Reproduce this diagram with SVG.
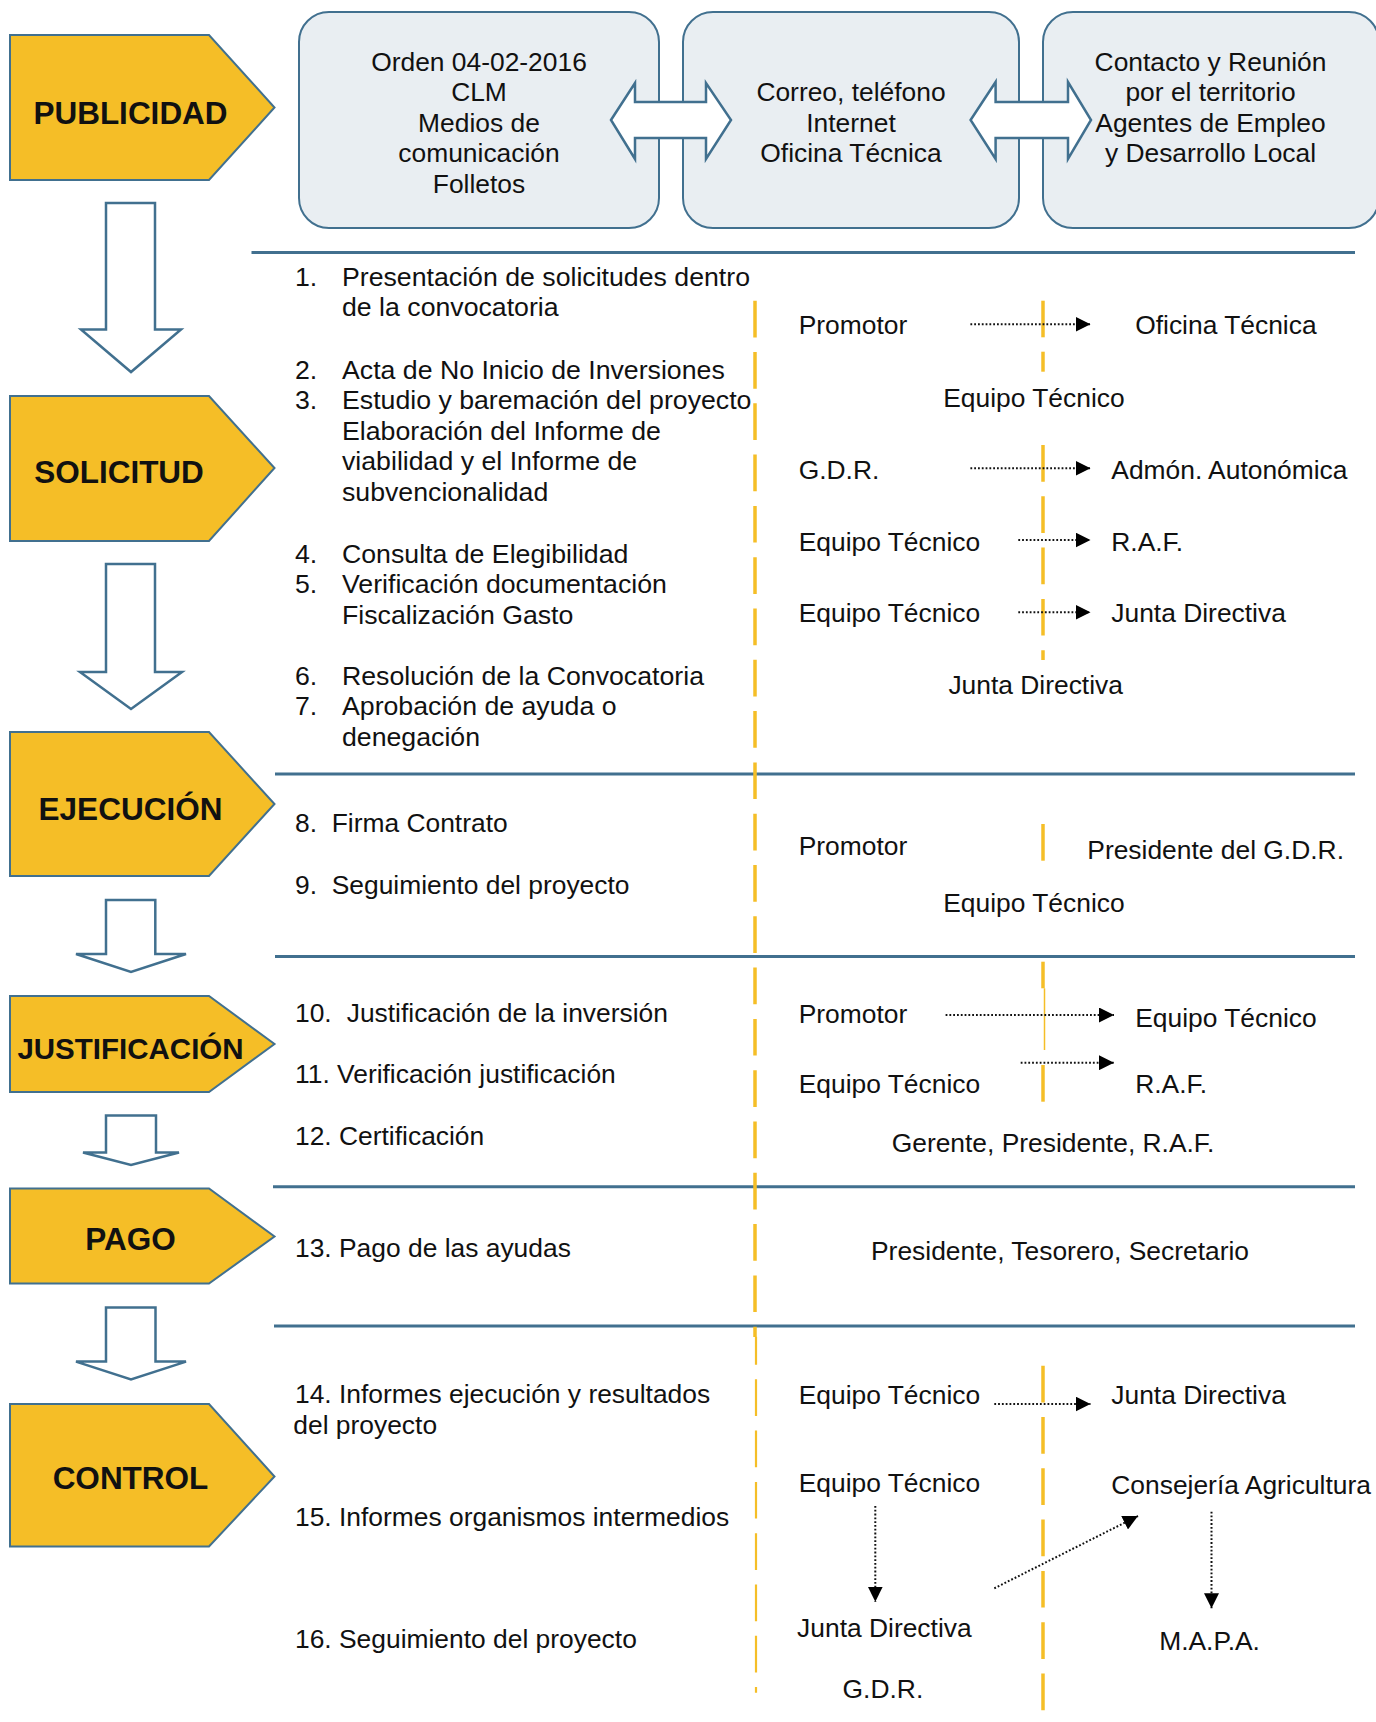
<svg xmlns="http://www.w3.org/2000/svg" width="1376" height="1722" viewBox="0 0 1376 1722">
<defs>
<style>
.t{font-family:"Liberation Sans",Arial,sans-serif;font-size:26.4px;fill:#111}
.tl{font-family:"Liberation Sans",Arial,sans-serif;font-size:26.7px;fill:#111}
.h{font-family:"Liberation Sans",Arial,sans-serif;font-size:31.5px;font-weight:bold;fill:#111;text-anchor:middle}
.pent{fill:#F5BE27;stroke:#41708F;stroke-width:2}
.box{fill:#E9EEF2;stroke:#41708F;stroke-width:2}
.blk{fill:#fff;stroke:#41708F;stroke-width:2.5}
.hl{stroke:#41708F;stroke-width:3}
.yl{stroke:#F5BE27;stroke-width:3.5;stroke-dasharray:36.7 14.6}
.ys{stroke:#F5BE27;stroke-width:3.5}
.dot{stroke:#111;stroke-width:2;stroke-dasharray:1.8 2;fill:none;marker-end:url(#ah)}
</style>
<marker id="ah" markerUnits="userSpaceOnUse" markerWidth="15" markerHeight="15" viewBox="0 0 15 15" refX="15" refY="7.5" orient="auto">
<path d="M0,0 L15,7.5 L0,15 z" fill="#000"/>
</marker>
</defs>
<rect width="1376" height="1722" fill="#fff"/>

<!-- stage pentagons -->
<g id="publicidad"><polygon class="pent" points="10,35 209,35 274.5,107.5 209,180 10,180"/><text class="h" x="130.5" y="123.5">PUBLICIDAD</text></g>
<g id="solicitud"><polygon class="pent" points="10,396 209,396 274.5,468 209,541 10,541"/><text class="h" x="119" y="483">SOLICITUD</text></g>
<g id="ejecucion"><polygon class="pent" points="10,732 209,732 274.5,804 209,876 10,876"/><text class="h" x="130.5" y="820">EJECUCIÓN</text></g>
<g id="justificacion"><polygon class="pent" points="10,996 209,996 274.5,1044 209,1092 10,1092"/><text class="h" x="130.5" y="1058.5" style="font-size:29.5px">JUSTIFICACIÓN</text></g>
<g id="pago"><polygon class="pent" points="10,1188.5 209,1188.5 274.5,1236.5 209,1283.5 10,1283.5"/><text class="h" x="130.5" y="1250">PAGO</text></g>
<g id="control"><polygon class="pent" points="10,1404 209,1404 274.5,1476.5 209,1546.5 10,1546.5"/><text class="h" x="130.5" y="1488.5">CONTROL</text></g>

<!-- down block arrows -->
<g id="down-arrows">
<polygon class="blk" points="106,203 155,203 155,329.5 181,329.5 131,372 81,329.5 106,329.5"/>
<polygon class="blk" points="106,564 155,564 155,672 182,672 131,709 80,672 106,672"/>
<polygon class="blk" points="106,900 155.3,900 155.3,954 186,954 131,972 76,954 106,954"/>
<polygon class="blk" points="106,1115.5 156,1115.5 156,1152.5 179,1152.5 131,1165 83,1152.5 106,1152.5"/>
<polygon class="blk" points="106,1307.5 155.5,1307.5 155.5,1361.6 186,1361.6 131,1379.5 76,1361.6 106,1361.6"/>
</g>

<!-- publicity boxes -->
<g id="box1"><rect class="box" x="299" y="12" width="360" height="216" rx="30"/>
<text class="t" text-anchor="middle"><tspan x="479" y="70.7">Orden 04-02-2016</tspan><tspan x="479" y="101.2">CLM</tspan><tspan x="479" y="131.7">Medios de</tspan><tspan x="479" y="162.2">comunicación</tspan><tspan x="479" y="192.7">Folletos</tspan></text></g>
<g id="box2"><rect class="box" x="683" y="12" width="336" height="216" rx="30"/>
<text class="t" text-anchor="middle"><tspan x="851" y="101.2">Correo, teléfono</tspan><tspan x="851" y="131.7">Internet</tspan><tspan x="851" y="162.2">Oficina Técnica</tspan></text></g>
<g id="box3"><rect class="box" x="1043" y="12" width="336" height="216" rx="30"/>
<text class="t" text-anchor="middle"><tspan x="1210.5" y="70.7">Contacto y Reunión</tspan><tspan x="1210.5" y="101.2">por el territorio</tspan><tspan x="1210.5" y="131.7">Agentes de Empleo</tspan><tspan x="1210.5" y="162.2">y Desarrollo Local</tspan></text></g>

<g id="double-arrows">
<polygon class="blk" points="611,120 635,83 635,102 706,102 706,83 731,120 706,159 706,138 635,138 635,159"/>
<polygon class="blk" points="970.6,120 995.6,82 995.6,102 1068,102 1068,82 1091,120 1068,159 1068,138 995.6,138 995.6,159"/>
</g>

<!-- separator lines -->
<g id="separators">
<line class="hl" x1="251.5" y1="252.5" x2="1355" y2="252.5"/>
<line class="hl" x1="275" y1="774" x2="1355" y2="774"/>
<line class="hl" x1="275" y1="956.5" x2="1355" y2="956.5"/>
<line class="hl" x1="273" y1="1186.7" x2="1355" y2="1186.7"/>
<line class="hl" x1="274" y1="1326" x2="1355" y2="1326"/>
</g>

<!-- yellow dashed dividers -->
<g id="dividers">
<line class="yl" x1="755" y1="300.7" x2="755" y2="1337"/>
<line class="yl" x1="756" y1="1336.7" x2="756" y2="1692.7" style="stroke-width:2.2;stroke-dashoffset:8.7"/>
<line class="ys" x1="1043" y1="300.7" x2="1043" y2="337.3"/>
<line class="ys" x1="1043" y1="351.7" x2="1043" y2="371.7"/>
<line class="yl" x1="1043" y1="445" x2="1043" y2="660"/>
<line class="ys" x1="1043" y1="824" x2="1043" y2="860.7"/>
<line class="ys" x1="1043" y1="961.7" x2="1043" y2="988.3"/>
<line class="ys" x1="1044.5" y1="988.3" x2="1044.5" y2="1050" style="stroke-width:1.5"/>
<line class="ys" x1="1043" y1="1065" x2="1043" y2="1101.7"/>
<line class="yl" x1="1043" y1="1365.7" x2="1043" y2="1710.7"/>
</g>

<!-- left list -->
<g id="list-solicitud">
<text class="tl" x="295" y="286">1.</text><text class="tl" x="342" y="286">Presentación de solicitudes dentro</text>
<text class="tl" x="342" y="316">de la convocatoria</text>
<text class="tl" x="295" y="378.5">2.</text><text class="tl" x="342" y="378.5">Acta de No Inicio de Inversiones</text>
<text class="tl" x="295" y="409">3.</text><text class="tl" x="342" y="409">Estudio y baremación del proyecto</text>
<text class="tl" x="342" y="439.5">Elaboración del Informe de</text>
<text class="tl" x="342" y="470">viabilidad y el Informe de</text>
<text class="tl" x="342" y="500.5">subvencionalidad</text>
<text class="tl" x="295" y="562.7">4.</text><text class="tl" x="342" y="562.7">Consulta de Elegibilidad</text>
<text class="tl" x="295" y="593.3">5.</text><text class="tl" x="342" y="593.3">Verificación documentación</text>
<text class="tl" x="342" y="623.5">Fiscalización Gasto</text>
<text class="tl" x="295" y="685">6.</text><text class="tl" x="342" y="685">Resolución de la Convocatoria</text>
<text class="tl" x="295" y="715.3">7.</text><text class="tl" x="342" y="715.3">Aprobación de ayuda o</text>
<text class="tl" x="342" y="745.5">denegación</text>
</g>
<g id="list-ejecucion">
<text class="t" x="295" y="831.7">8.</text><text class="t" x="331.7" y="831.7">Firma Contrato</text>
<text class="t" x="295" y="894">9.</text><text class="t" x="331.7" y="894">Seguimiento del proyecto</text>
</g>
<g id="list-justificacion">
<text class="t" x="295" y="1021.7">10.</text><text class="t" x="346.7" y="1021.7">Justificación de la inversión</text>
<text class="t" x="295" y="1083.3">11. Verificación justificación</text>
<text class="t" x="295" y="1145">12. Certificación</text>
</g>
<g id="list-pago"><text class="t" x="295" y="1256.7">13. Pago de las ayudas</text></g>
<g id="list-control">
<text class="t" x="295" y="1403.3">14. Informes ejecución y resultados</text>
<text class="t" x="293.3" y="1434">del proyecto</text>
<text class="t" x="295" y="1526">15. Informes organismos intermedios</text>
<text class="t" x="295" y="1648.3">16. Seguimiento del proyecto</text>
</g>

<!-- right column actors -->
<g id="actors">
<text class="t" x="798.7" y="334.3">Promotor</text>
<text class="t" x="1135.2" y="334.3">Oficina Técnica</text>
<text class="t" x="943.2" y="406.7">Equipo Técnico</text>
<text class="t" x="798.7" y="479">G.D.R.</text>
<text class="t" x="1111.3" y="479">Admón. Autonómica</text>
<text class="t" x="798.7" y="550.7">Equipo Técnico</text>
<text class="t" x="1111.3" y="550.7">R.A.F.</text>
<text class="t" x="798.7" y="622.3">Equipo Técnico</text>
<text class="t" x="1111.3" y="622.3">Junta Directiva</text>
<text class="t" x="948.4" y="694.3">Junta Directiva</text>
<text class="t" x="798.7" y="855">Promotor</text>
<text class="t" x="1087.3" y="859.3">Presidente del G.D.R.</text>
<text class="t" x="943.2" y="912.3">Equipo Técnico</text>
<text class="t" x="798.7" y="1023.3">Promotor</text>
<text class="t" x="1135.2" y="1026.7">Equipo Técnico</text>
<text class="t" x="798.7" y="1093.3">Equipo Técnico</text>
<text class="t" x="1135.2" y="1093.3">R.A.F.</text>
<text class="t" x="891.7" y="1151.7">Gerente, Presidente, R.A.F.</text>
<text class="t" x="871" y="1260">Presidente, Tesorero, Secretario</text>
<text class="t" x="798.7" y="1404">Equipo Técnico</text>
<text class="t" x="1111.3" y="1404">Junta Directiva</text>
<text class="t" x="798.7" y="1491.7">Equipo Técnico</text>
<text class="t" x="1111.3" y="1494.3">Consejería Agricultura</text>
<text class="t" x="797.1" y="1637.3">Junta Directiva</text>
<text class="t" x="1159.2" y="1650">M.A.P.A.</text>
<text class="t" x="842.6" y="1698.3">G.D.R.</text>
</g>

<!-- connectors -->
<g id="connectors">
<line class="dot" x1="970.4" y1="324.3" x2="1090.5" y2="324.3"/>
<line class="dot" x1="970.4" y1="468.3" x2="1090.5" y2="468.3"/>
<line class="dot" x1="1018.3" y1="540" x2="1090.5" y2="540"/>
<line class="dot" x1="1018.3" y1="612.3" x2="1090.5" y2="612.3"/>
<line class="dot" x1="945.6" y1="1015" x2="1114" y2="1015"/>
<line class="dot" x1="1020.7" y1="1062.7" x2="1114" y2="1062.7"/>
<line class="dot" x1="994.3" y1="1404" x2="1090.5" y2="1404"/>
<line class="dot" x1="875.3" y1="1506" x2="875.3" y2="1601.7"/>
<line class="dot" x1="994.3" y1="1588.3" x2="1138" y2="1516"/>
<line class="dot" x1="1211.5" y1="1511.7" x2="1211.5" y2="1608.3"/>
</g>
</svg>
